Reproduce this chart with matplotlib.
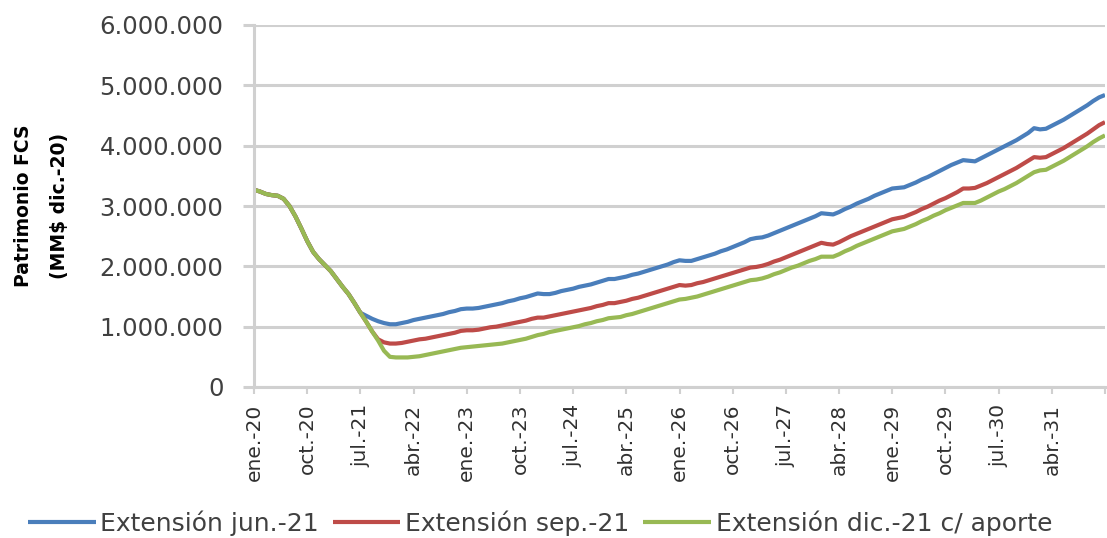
import matplotlib
matplotlib.use("Agg")
import matplotlib.pyplot as plt
from matplotlib.ticker import FuncFormatter
import numpy as np

# valores en miles de MM$ (dic.-20), mensuales desde ene.-20
comun = [3270, 3240, 3200, 3180, 3170, 3120, 3000, 2830, 2630, 2420,
         2240, 2120, 2020, 1920, 1790, 1660, 1540, 1390, 1230]

ext_jun = comun + [
    1180, 1130, 1090, 1060, 1040, 1040, 1060, 1080, 1110, 1130,
    1150, 1170, 1190, 1210, 1240, 1260, 1290, 1300, 1300, 1310,
    1330, 1350, 1370, 1390, 1420, 1440, 1470, 1490, 1520, 1550,
    1540, 1540, 1560, 1590, 1610, 1630, 1660, 1680, 1700, 1730,
    1760, 1790, 1790, 1810, 1830, 1860, 1880, 1910, 1940, 1970,
    2000, 2030, 2070, 2100, 2090, 2090, 2120, 2150, 2180, 2210,
    2250, 2280, 2320, 2360, 2400, 2450, 2470, 2480, 2510, 2550,
    2590, 2630, 2670, 2710, 2750, 2790, 2830, 2880, 2870, 2860,
    2900, 2950, 2990, 3040, 3080, 3120, 3170, 3210, 3250, 3290,
    3300, 3310, 3350, 3390, 3440, 3480, 3530, 3580, 3630, 3680,
    3720, 3760, 3750, 3740, 3790, 3840, 3890, 3940, 3990, 4040,
    4090, 4150, 4210, 4290, 4270, 4280, 4330, 4380, 4430, 4490,
    4550, 4610, 4670, 4740, 4800, 4840]

ext_sep = comun + [
    1080, 920, 790, 740, 720, 720, 730, 750, 770, 790,
    800, 820, 840, 860, 880, 900, 930, 940, 940, 950,
    970, 990, 1000, 1020, 1040, 1060, 1080, 1100, 1130, 1150,
    1150, 1170, 1190, 1210, 1230, 1250, 1270, 1290, 1310, 1340,
    1360, 1390, 1390, 1410, 1430, 1460, 1480, 1510, 1540, 1570,
    1600, 1630, 1660, 1690, 1680, 1690, 1720, 1740, 1770, 1800,
    1830, 1860, 1890, 1920, 1950, 1980, 1990, 2010, 2040, 2080,
    2110, 2150, 2190, 2230, 2270, 2310, 2350, 2390, 2370, 2360,
    2400, 2450, 2500, 2540, 2580, 2620, 2660, 2700, 2740, 2780,
    2800, 2820, 2860, 2900, 2950, 2990, 3040, 3090, 3130, 3180,
    3230, 3290, 3290, 3300, 3340, 3380, 3430, 3480, 3530, 3580,
    3630, 3690, 3750, 3810, 3800, 3810, 3860, 3910, 3960, 4020,
    4080, 4140, 4200, 4270, 4340, 4390]

ext_dic = comun + [
    1080, 920, 770, 600, 500, 490, 490, 490, 500, 510,
    530, 550, 570, 590, 610, 630, 650, 660, 670, 680,
    690, 700, 710, 720, 740, 760, 780, 800, 830, 860,
    880, 910, 930, 950, 970, 990, 1010, 1040, 1060, 1090,
    1110, 1140, 1150, 1160, 1190, 1210, 1240, 1270, 1300, 1330,
    1360, 1390, 1420, 1450, 1460, 1480, 1500, 1530, 1560, 1590,
    1620, 1650, 1680, 1710, 1740, 1770, 1780, 1800, 1830, 1870,
    1900, 1940, 1980, 2010, 2050, 2090, 2120, 2160, 2160, 2160,
    2200, 2250, 2290, 2340, 2380, 2420, 2460, 2500, 2540, 2580,
    2600, 2620, 2660, 2700, 2750, 2790, 2840, 2880, 2930, 2970,
    3010, 3050, 3050, 3050, 3090, 3140, 3190, 3240, 3280, 3330,
    3380, 3440, 3500, 3560, 3590, 3600, 3650, 3700, 3750, 3810,
    3870, 3930, 3990, 4060, 4120, 4170]

etiquetas = ["ene.-20", "oct.-20", "jul.-21", "abr.-22", "ene.-23", "oct.-23",
             "jul.-24", "abr.-25", "ene.-26", "oct.-26", "jul.-27", "abr.-28",
             "ene.-29", "oct.-29", "jul.-30", "abr.-31"]

nombres = ["Extensión jun.-21", "Extensión sep.-21", "Extensión dic.-21 c/ aporte"]
colores = ["#4a7ebb", "#be4b48", "#98b954"]

W, H = 1107, 538
fig = plt.figure(figsize=(W/100, H/100), dpi=100)
ax = fig.add_axes([254/W, 1-387/H, (1105-254)/W, (387-25)/H])

for serie, nom, col in zip([ext_jun, ext_sep, ext_dic], nombres, colores):
    ax.plot(np.arange(len(serie)), serie, color=col, lw=3.0, label=nom,
            solid_capstyle="butt")

gris = "#d0d0d0"
ax.set_ylim(0, 6000)
ax.set_yticks(np.arange(0, 6001, 1000))
ax.yaxis.set_major_formatter(FuncFormatter(lambda v, p: f"{int(v*1000):,}".replace(",", ".")))
ax.grid(axis="y", color=gris, lw=2.2)
ax.set_axisbelow(True)

ax.set_xlim(0, 144)
ax.set_xticks(np.arange(0, 9*len(etiquetas), 9))
ax.set_xticklabels(etiquetas, rotation=90, fontsize=14.5, color="#303030")
ax.set_xticks([144], minor=True)

for s in ["top", "right"]:
    ax.spines[s].set_visible(False)
for s in ["left", "bottom"]:
    ax.spines[s].set_color(gris)
    ax.spines[s].set_linewidth(2.2)

ax.tick_params(axis="y", length=8, width=2.2, color=gris, pad=14,
               labelsize=17.5, labelcolor="#404040")
ax.tick_params(axis="x", which="both", length=5, width=1.5, color=gris, pad=7)

ax.set_ylabel("Patrimonio FCS\n(MM$ dic.-20)", fontsize=13.5, fontweight="bold",
              linespacing=2.1)
ax.yaxis.set_label_coords((69-254)/851, 0.5)

fig.legend(loc="center left", bbox_to_anchor=(28/W, 1-523/H), ncol=3,
           frameon=False, fontsize=18, handlelength=2.7, handletextpad=0.2,
           columnspacing=0.55, borderpad=0, borderaxespad=0,
           labelcolor="#404040")

fig.savefig("out.png", dpi=100)
